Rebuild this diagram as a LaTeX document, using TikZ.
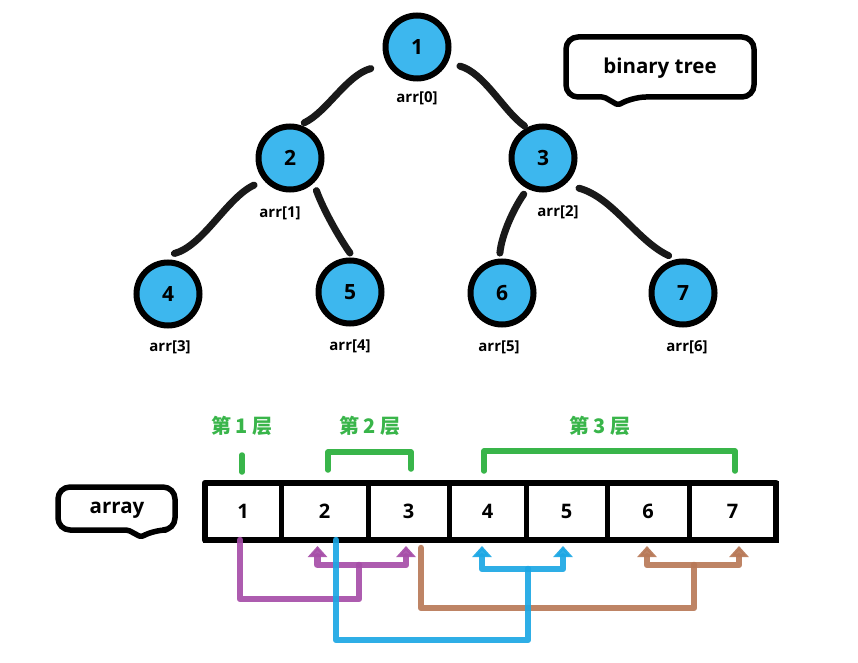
\documentclass[tikz,border=0pt]{standalone}
\usepackage{fontspec}
\setmainfont{Open Sans}
\newfontfamily\cjk{Noto Sans CJK SC}
\usetikzlibrary{arrows.meta,calc}
\definecolor{nodeblue}{RGB}{61,183,238}
\definecolor{lvgreen}{RGB}{57,181,74}
\definecolor{apurple}{RGB}{166,78,168}
\definecolor{ablue}{RGB}{28,167,228}
\definecolor{abrown}{RGB}{184,121,88}
\begin{document}
\begin{tikzpicture}[x=1pt,y=1pt,
  tnode/.style={circle, draw=black, line width=6pt, fill=nodeblue, minimum size=63pt, inner sep=0pt, font=\fontsize{21}{21}\selectfont\bfseries},
  alabel/.style={font=\fontsize{15}{15}\selectfont\bfseries, inner sep=0pt},
  edge/.style={line width=7pt, line cap=round, draw=black!90},
  cell/.style={draw=black, line width=5pt, minimum height=57pt, inner sep=0pt, outer sep=0pt, font=\fontsize{20}{20}\selectfont\bfseries},
  callout/.style={draw=black, line width=5.5pt, line cap=round, line join=round},
  ctext/.style={font=\fontsize{20.5}{20.5}\selectfont\bfseries, inner sep=0pt},
  lvtext/.style={text=lvgreen, font=\fontsize{20}{20}\selectfont\cjk\bfseries, inner sep=0pt},
  lvline/.style={draw=lvgreen, line width=5.5pt, line cap=round, line join=round},
  conn/.style={line width=6.5pt, line cap=round, line join=round, opacity=0.92},
  tipped/.style={-{Triangle[width=19pt,length=11pt]}}
]
\useasboundingbox (0,0) rectangle (858,662);

% tree nodes
\node[tnode] (n1) at (417,615) {1};
\node[tnode] (n2) at (290,504) {2};
\node[tnode] (n3) at (543,504) {3};
\node[tnode] (n4) at (168,368) {4};
\node[tnode] (n5) at (350,370) {5};
\node[tnode] (n6) at (502,369) {6};
\node[tnode] (n7) at (683,369) {7};

% index labels
\node[alabel] (l0) at (417,564) {arr[0]};
\node[alabel] (l1) at (280,449) {arr[1]};
\node[alabel] (l2) at (558,450) {arr[2]};
\node[alabel] (l3) at (170,315) {arr[3]};
\node[alabel] (l4) at (350,316) {arr[4]};
\node[alabel] (l5) at (499,315) {arr[5]};
\node[alabel] (l6) at (687,315) {arr[6]};

% tree edges
\draw[edge] ($(n1)+(205:51)$) .. controls +(195:25) and +(25:25) .. ($(n2)+(68:38)$);
\draw[edge] ($(n1)+(336:47)$) .. controls +(-15:25) and +(145:25) .. ($(n3)+(120:37)$);
\draw[edge] ($(n2)+(217:45)$) .. controls +(205:30) and +(15:30) .. ($(n4)+(81:41)$);
\draw[edge] ($(n2)+(309:42)$) .. controls +(-70:20) and +(125:20) .. ($(n5)+(90:39)$);
\draw[edge] ($(n3)+(242:41)$) .. controls +(235:18) and +(85:18) .. ($(n6)+(93:40)$);
\draw[edge] ($(n3)+(320:47)$) .. controls +(-15:35) and +(155:35) .. ($(n7)+(111:40)$);

% callouts
\node[ctext] (bt) at (660,594) {binary tree};
\draw[callout] (566,595) [rounded corners=12pt] -- (566,625) -- (754,625) -- (754,565) -- (634,565) [rounded corners=2pt] -- (618,557) -- (604,565) [rounded corners=12pt] -- (566,565) -- (566,595);
\node[ctext] (ar) at (117,152) {array};
\draw[callout] (58,153) [rounded corners=12pt] -- (58,175) -- (175,175) -- (175,132) -- (154,132) [rounded corners=2pt] -- (141,125) -- (128,132) [rounded corners=12pt] -- (58,132) -- (58,153);

% array cells
\node[cell, minimum width=76pt] (c1) at (243,150.5) {1};
\node[cell, minimum width=87pt] (c2) at (324.5,150.5) {2};
\node[cell, minimum width=81pt] (c3) at (408.5,150.5) {3};
\node[cell, minimum width=77pt] (c4) at (487.5,150.5) {4};
\node[cell, minimum width=81pt] (c5) at (566.5,150.5) {5};
\node[cell, minimum width=82pt] (c6) at (648,150.5) {6};
\node[cell, minimum width=87pt] (c7) at (732.5,150.5) {7};
\draw[line width=6.5pt, line join=round] (c1.north west) rectangle (c7.south east);

% level labels and brackets
\node[lvtext] (g1) at (242,236) {第 1 层};
\node[lvtext] (g2) at (370,236) {第 2 层};
\node[lvtext] (g3) at (600,236) {第 3 层};
\draw[lvline] (242,190) -- (242,207);
\draw[lvline] (328,192) -- (328,210) -- (411,210) -- (411,193);
\draw[lvline] (484,191) -- (484,211) -- (735,211) -- (735,191);

% junction coordinates
\coordinate (pm) at (359,63);
\coordinate (pj) at (359,97);
\coordinate (rm) at (694,54);
\coordinate (rj) at (694,97);
\coordinate (bm) at (528,22);
\coordinate (bj) at (528,93);

% purple: 1 -> 2, 3
\draw[conn, draw=apurple] ([xshift=-3pt]c1.south) |- (pm) -- (pj);
\draw[conn, draw=apurple, tipped] (pj) -| ([xshift=-7pt,yshift=-6pt]c2.south);
\draw[conn, draw=apurple, tipped] (pj) -| ([xshift=-2.5pt,yshift=-6pt]c3.south);

% brown: 3 -> 6, 7
\draw[conn, draw=abrown] ([xshift=12.5pt,yshift=-8pt]c3.south) |- (rm) -- (rj);
\draw[conn, draw=abrown, tipped] (rj) -| ([xshift=-1pt,yshift=-6pt]c6.south);
\draw[conn, draw=abrown, tipped] (rj) -| ([xshift=6.5pt,yshift=-6pt]c7.south);

% blue: 2 -> 4, 5
\draw[conn, draw=ablue] ([xshift=11.5pt]c2.south) |- (bm) -- (bj);
\draw[conn, draw=ablue, tipped] (bj) -| ([xshift=-5.5pt,yshift=-6pt]c4.south);
\draw[conn, draw=ablue, tipped] (bj) -| ([xshift=-3.5pt,yshift=-6pt]c5.south);
\end{tikzpicture}
\end{document}
